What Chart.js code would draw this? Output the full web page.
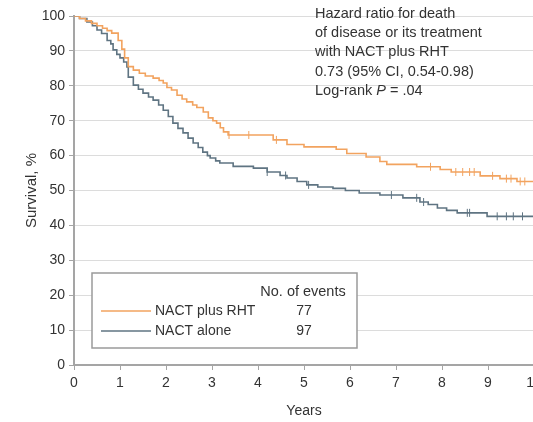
<!DOCTYPE html>
<html>
<head>
<meta charset="utf-8">
<script src="https://cdn.jsdelivr.net/npm/chart.js@4"></script>
<style>
  html, body { margin: 0; padding: 0; background: #fff; overflow: hidden; }
  #wrap { width: 533px; height: 422px; overflow: hidden; position: relative; }
  #box { width: 560px; height: 422px; position: absolute; left: 0; top: 0; }
</style>
</head>
<body>
<div id="wrap"><div id="box"><canvas id="km"></canvas></div></div>
<script>
// Kaplan-Meier steps (years, survival %)
let rhtTimes = [0, 0.12, 0.25, 0.38, 0.5, 0.62, 0.72, 0.82, 0.96, 1.04, 1.1, 1.18, 1.29, 1.42, 1.55, 1.72, 1.85, 1.94, 2.02, 2.12, 2.24, 2.35, 2.45, 2.58, 2.67, 2.81, 2.92, 3.02, 3.1, 3.18, 3.25, 3.35, 4.33, 4.63, 5.0, 5.7, 5.93, 6.35, 6.65, 6.8, 7.45, 7.96, 8.2, 8.83, 9.26, 9.63, 10];
let rhtValues = [100, 99.3, 98.6, 97.9, 97.2, 96.5, 95.8, 95.1, 93.0, 90.5, 88.0, 85.5, 84.5, 83.6, 82.8, 82.2, 81.5, 80.8, 79.5, 78.8, 77.3, 76.2, 75.4, 74.5, 73.8, 72.5, 70.8, 70.0, 69.3, 68.0, 66.8, 65.9, 64.5, 63.2, 62.5, 61.8, 60.6, 59.6, 58.3, 57.5, 56.8, 56.0, 55.3, 54.2, 53.4, 52.6, 52.6];

let nactTimes = [0, 0.12, 0.28, 0.4, 0.5, 0.6, 0.72, 0.8, 0.85, 0.93, 1.0, 1.08, 1.15, 1.18, 1.29, 1.4, 1.5, 1.62, 1.72, 1.84, 1.94, 2.05, 2.15, 2.26, 2.37, 2.48, 2.59, 2.7, 2.8, 2.9, 2.96, 3.08, 3.17, 3.46, 3.9, 4.2, 4.48, 4.63, 4.85, 5.06, 5.3, 5.63, 5.9, 6.2, 6.65, 7.15, 7.52, 7.7, 7.9, 8.1, 8.33, 8.98, 10];
let nactValues = [100, 99.3, 98.3, 97.2, 96.0, 95.0, 93.0, 92.0, 90.3, 89.0, 88.0, 86.8, 85.4, 82.5, 80.2, 79.0, 77.9, 76.8, 75.9, 74.5, 73.0, 71.2, 69.3, 67.8, 66.5, 65.0, 63.6, 62.3, 61.0, 60.0, 59.3, 58.5, 57.9, 56.9, 56.4, 55.3, 54.3, 53.6, 52.6, 51.6, 51.0, 50.6, 50.0, 49.3, 48.7, 47.9, 46.7, 46.0, 45.0, 44.3, 43.6, 42.6, 42.6];

// censored observations (years)
let rhtCensor = [3.37, 3.8, 4.4, 7.75, 8.3, 8.45, 8.6, 8.7, 9.1, 9.4, 9.5, 9.7, 9.8];
let nactCensor = [4.2, 4.6, 5.1, 6.9, 7.45, 7.6, 8.55, 8.6, 9.2, 9.4, 9.55, 9.75];

let seriesNames = ["NACT plus RHT", "NACT alone"];
let seriesEvents = ["77", "97"];
let seriesColors = ["#f2a35f", "#5f7482"];

let noteLines = ["Hazard ratio for death", "of disease or its treatment", "with NACT plus RHT", "0.73 (95% CI, 0.54-0.98)"];

const FONT = "'Liberation Sans', Arial, sans-serif";
const TEXT = "#333333";

function toPoints(ts, vs) {
  return ts.map((t, i) => ({ x: t, y: vs[i] }));
}

// value of the step curve at time t
function stepAt(ts, vs, t) {
  let v = vs[0];
  for (let i = 0; i < ts.length; i++) {
    if (ts[i] <= t) v = vs[i];
  }
  return v;
}

function censorPoints(cs, ts, vs) {
  return cs.map(t => ({ x: t, y: stepAt(ts, vs, t) }));
}

const extras = {
  id: "extras",
  afterDatasetsDraw(chart) {
    let ctx = chart.ctx;
    ctx.save();

    // note top right
    ctx.fillStyle = TEXT;
    ctx.font = "14.5px " + FONT;
    ctx.textBaseline = "middle";
    ctx.textAlign = "left";
    let nx = 315, ny = 14;
    noteLines.forEach((s, i) => ctx.fillText(s, nx, ny + i * 19.2));
    let ly = ny + 4 * 19.2;
    let w = ctx.measureText("Log-rank ").width;
    ctx.fillText("Log-rank ", nx, ly);
    ctx.font = "italic 14.5px " + FONT;
    ctx.fillText("P", nx + w, ly);
    w += ctx.measureText("P").width;
    ctx.font = "14.5px " + FONT;
    ctx.fillText(" = .04", nx + w, ly);

    // legend box
    let bx = 92, by = 273, bw = 265, bh = 75;
    ctx.fillStyle = "#fff";
    ctx.fillRect(bx, by, bw, bh);
    ctx.strokeStyle = "#9a9a9a";
    ctx.lineWidth = 1.5;
    ctx.strokeRect(bx, by, bw, bh);

    ctx.fillStyle = TEXT;
    ctx.font = "14.5px " + FONT;
    ctx.textAlign = "center";
    ctx.fillText("No. of events", 303, 292);
    ctx.font = "14px " + FONT;
    seriesNames.forEach((name, i) => {
      let yy = 311 + i * 20;
      ctx.strokeStyle = seriesColors[i];
      ctx.lineWidth = 1.5;
      ctx.beginPath();
      ctx.moveTo(101, yy);
      ctx.lineTo(151, yy);
      ctx.stroke();
      ctx.fillStyle = TEXT;
      ctx.textAlign = "left";
      ctx.fillText(name, 155, yy);
      ctx.textAlign = "center";
      ctx.fillText(seriesEvents[i], 304, yy);
    });
    ctx.restore();
  }
};

new Chart(document.getElementById("km"), {
  type: "line",
  data: {
    datasets: [
      {
        label: seriesNames[0],
        data: toPoints(rhtTimes, rhtValues),
        borderColor: seriesColors[0],
        borderWidth: 1.6,
        stepped: "before",
        pointRadius: 0,
        fill: false,
      },
      {
        label: seriesNames[1],
        data: toPoints(nactTimes, nactValues),
        borderColor: seriesColors[1],
        borderWidth: 1.6,
        stepped: "before",
        pointRadius: 0,
        fill: false,
      },
      {
        label: "rht censored",
        data: censorPoints(rhtCensor, rhtTimes, rhtValues),
        showLine: false,
        pointStyle: "line",
        rotation: 90,
        pointRadius: 4,
        borderColor: seriesColors[0],
        borderWidth: 1,
      },
      {
        label: "nact censored",
        data: censorPoints(nactCensor, nactTimes, nactValues),
        showLine: false,
        pointStyle: "line",
        rotation: 90,
        pointRadius: 4,
        borderColor: seriesColors[1],
        borderWidth: 1,
      },
    ],
  },
  options: {
    responsive: true,
    maintainAspectRatio: false,
    animation: false,
    layout: { padding: { left: 0, right: 26, top: 16, bottom: 0 } },
    plugins: { legend: { display: false }, tooltip: { enabled: false } },
    scales: {
      x: {
        type: "linear",
        min: 0,
        max: 10,
        ticks: { stepSize: 1, color: TEXT, font: { family: FONT, size: 14 }, padding: 5 },
        grid: { drawOnChartArea: false, drawTicks: true, tickLength: 5, tickColor: "#a5a5a5" },
        border: { color: "#a5a5a5", width: 2 },
        title: { display: true, text: "Years", color: TEXT, font: { family: FONT, size: 14 }, padding: { top: 0, bottom: 2 } },
        afterFit(s) { s.height = 57; },
      },
      y: {
        min: 0,
        max: 100,
        ticks: { stepSize: 10, color: TEXT, font: { family: FONT, size: 14 }, padding: 4 },
        grid: { color: "#dcdcdc", lineWidth: 1, tickLength: 5, tickColor: "#a5a5a5" },
        border: { color: "#a5a5a5", width: 2 },
        title: { display: true, text: "Survival, %", color: TEXT, font: { family: FONT, size: 15 }, padding: { top: 23, bottom: 0 } },
        afterFit(s) { s.width = 74; },
      },
    },
  },
  plugins: [extras],
});
</script>
</body>
</html>
